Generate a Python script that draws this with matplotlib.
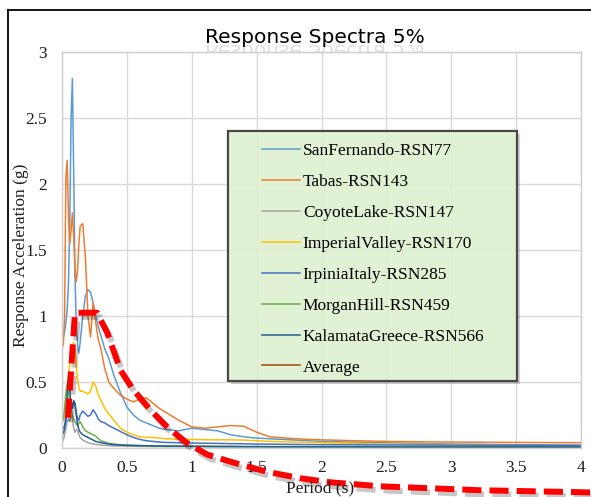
import matplotlib
matplotlib.use("Agg")
import matplotlib.pyplot as plt
import matplotlib.patheffects as pe
from matplotlib.textpath import TextPath
from matplotlib.patches import PathPatch, Rectangle
from matplotlib.font_manager import FontProperties
from matplotlib.transforms import Affine2D, IdentityTransform
from matplotlib.lines import Line2D

# periods (s)
T = [0.0, 0.01, 0.02, 0.03, 0.04, 0.05, 0.06, 0.07, 0.08, 0.09, 0.10, 0.11, 0.12, 0.13, 0.14,
     0.16, 0.18, 0.20, 0.22, 0.24, 0.26, 0.28, 0.30, 0.33, 0.36, 0.40, 0.45, 0.50, 0.55, 0.60,
     0.65, 0.70, 0.75, 0.80, 0.90, 1.00, 1.10, 1.20, 1.30, 1.40, 1.50, 1.60, 1.80, 2.00, 2.25,
     2.50, 3.00, 3.50, 4.00]

# spectral acceleration (g) per record
san_fernando = [0.83, 0.84, 0.88, 0.95, 1.05, 1.25, 1.70, 2.50, 2.80, 2.10, 1.30, 0.95, 0.78, 0.72, 0.80,
                1.00, 1.15, 1.20, 1.18, 1.10, 1.00, 0.92, 0.85, 0.75, 0.68, 0.55, 0.42, 0.31, 0.25, 0.21,
                0.19, 0.17, 0.15, 0.14, 0.13, 0.15, 0.14, 0.13, 0.10, 0.085, 0.075, 0.07, 0.06, 0.05, 0.045,
                0.04, 0.03, 0.025, 0.02]
tabas = [0.76, 0.78, 1.00, 2.05, 2.18, 1.75, 1.55, 1.65, 1.78, 1.60, 1.35, 1.26, 1.35, 1.55, 1.68,
         1.70, 1.45, 1.00, 0.84, 1.10, 0.95, 0.82, 0.75, 0.60, 0.50, 0.45, 0.40, 0.37, 0.35, 0.37,
         0.38, 0.34, 0.30, 0.27, 0.21, 0.16, 0.15, 0.16, 0.17, 0.165, 0.12, 0.085, 0.07, 0.062, 0.055,
         0.05, 0.045, 0.042, 0.04]
coyote_lake = [0.05, 0.06, 0.10, 0.15, 0.20, 0.22, 0.20, 0.25, 0.22, 0.15, 0.12, 0.14, 0.13, 0.10, 0.08,
               0.06, 0.05, 0.04, 0.035, 0.03, 0.027, 0.025, 0.022, 0.02, 0.018, 0.016, 0.015, 0.014, 0.013, 0.012,
               0.012, 0.011, 0.011, 0.01, 0.01, 0.01, 0.009, 0.009, 0.008, 0.008, 0.008, 0.007, 0.007, 0.006, 0.006,
               0.005, 0.005, 0.004, 0.004]
imperial_valley = [0.20, 0.21, 0.25, 0.32, 0.44, 0.55, 0.65, 0.72, 0.78, 0.80, 0.74, 0.62, 0.52, 0.46, 0.43,
                   0.43, 0.42, 0.41, 0.43, 0.50, 0.47, 0.40, 0.36, 0.30, 0.26, 0.21, 0.15, 0.12, 0.10, 0.085,
                   0.08, 0.08, 0.075, 0.07, 0.068, 0.065, 0.063, 0.062, 0.062, 0.06, 0.055, 0.05, 0.045, 0.04, 0.035,
                   0.03, 0.025, 0.02, 0.018]
irpinia_italy = [0.15, 0.15, 0.17, 0.20, 0.26, 0.31, 0.28, 0.30, 0.33, 0.35, 0.33, 0.27, 0.22, 0.21, 0.25,
                 0.28, 0.26, 0.24, 0.25, 0.29, 0.26, 0.22, 0.20, 0.19, 0.17, 0.15, 0.125, 0.10, 0.08, 0.065,
                 0.055, 0.05, 0.045, 0.042, 0.04, 0.038, 0.036, 0.035, 0.033, 0.032, 0.03, 0.029, 0.027, 0.025, 0.024,
                 0.023, 0.022, 0.021, 0.02]
morgan_hill = [0.20, 0.22, 0.30, 0.42, 0.49, 0.42, 0.34, 0.30, 0.25, 0.22, 0.20, 0.18, 0.17, 0.19, 0.20,
               0.16, 0.13, 0.12, 0.11, 0.10, 0.09, 0.07, 0.055, 0.045, 0.035, 0.03, 0.025, 0.022, 0.02, 0.018,
               0.017, 0.016, 0.015, 0.014, 0.013, 0.012, 0.012, 0.011, 0.011, 0.01, 0.01, 0.01, 0.009, 0.009, 0.008,
               0.008, 0.007, 0.007, 0.006]
kalamata_greece = [0.10, 0.11, 0.15, 0.25, 0.40, 0.54, 0.45, 0.30, 0.30, 0.36, 0.34, 0.25, 0.18, 0.14, 0.12,
                   0.10, 0.09, 0.08, 0.07, 0.06, 0.05, 0.045, 0.04, 0.035, 0.03, 0.025, 0.022, 0.02, 0.019, 0.018,
                   0.017, 0.016, 0.015, 0.015, 0.014, 0.013, 0.013, 0.012, 0.012, 0.011, 0.011, 0.01, 0.01, 0.009, 0.009,
                   0.008, 0.008, 0.008, 0.008]

names = ['SanFernando-RSN77', 'Tabas-RSN143', 'CoyoteLake-RSN147', 'ImperialValley-RSN170',
         'IrpiniaItaly-RSN285', 'MorganHill-RSN459', 'KalamataGreece-RSN566']
records = [san_fernando, tabas, coyote_lake, imperial_valley, irpinia_italy, morgan_hill, kalamata_greece]
colors = ['#5b9bd5', '#ed7d31', '#a5a5a5', '#ffc000', '#4472c4', '#70ad47', '#255e91']

# hand-drawn design spectrum overlay (red dashes)
design_T = [0.046, 0.10, 0.27, 0.35, 0.45, 0.55, 0.68, 0.81, 0.96, 1.12, 1.32, 1.58, 1.84,
            2.07, 2.45, 2.84, 3.22, 4.0, 4.08]
design_Sa = [0.23, 1.025, 1.025, 0.87, 0.59, 0.44, 0.29, 0.16, 0.04, -0.05, -0.11, -0.18, -0.23,
             -0.26, -0.29, -0.305, -0.32, -0.335, -0.337]

xticks = [0, 0.5, 1, 1.5, 2, 2.5, 3, 3.5, 4]
xlabels = ['0', '0.5', '1', '1.5', '2', '2.5', '3', '3.5', '4']
yticks = [0, 0.5, 1, 1.5, 2, 2.5, 3]
ylabels = ['0', '0.5', '1', '1.5', '2', '2.5', '3']

W, H = 591, 497
serif = 'Liberation Serif'

fig = plt.figure(figsize=(W / 100, H / 100), dpi=100)
ax = fig.add_axes([62 / W, 1 - 448 / H, (581 - 62) / W, (448 - 52) / H])

for name, vals, c in zip(names, records, colors):
    ax.plot(T, vals, color=c, lw=1.1, label=name)
ax.plot([], [], color='#9e480e', lw=1.1, label='Average')

red, = ax.plot(design_T, design_Sa, color='#ff0000', lw=4.3, clip_on=False, zorder=10,
               dash_capstyle='butt', solid_capstyle='butt')
red.set_dashes([3.2, 1.35])
red.set_path_effects([pe.SimpleLineShadow(offset=(2, -3), shadow_color='k', alpha=0.22),
                      pe.Normal()])

ax.set_xlim(0, 4)
ax.set_ylim(0, 3)
ax.set_xticks(xticks)
ax.set_xticklabels(xlabels)
ax.set_yticks(yticks)
ax.set_yticklabels(ylabels)
ax.tick_params(length=0, labelsize=12.5, labelcolor='#1f1f1f')
ax.tick_params(axis='y', pad=11)
ax.tick_params(axis='x', pad=9)
for lab in ax.get_xticklabels() + ax.get_yticklabels():
    lab.set_family(serif)
ax.grid(True, color='#d9d9d9', lw=1.0)
ax.set_axisbelow(True)
for s in ax.spines.values():
    s.set_color('#d0d0d0')
    s.set_linewidth(1.0)

fig.text(21 / W, 1 - 255 / H, 'Response Acceleration (g)', rotation=90, ha='center', va='center',
         family=serif, fontsize=12.5, color='#1f1f1f')
fig.text(320 / W, 1 - 488 / H, 'Period (s)', ha='center', va='center',
         family=serif, fontsize=12.5, color='#1f1f1f')

# title with faint mirrored reflection
title = 'Response Spectra 5%'
fig.text(315 / W, 1 - 43 / H, title, ha='center', va='baseline', family='DejaVu Sans',
         fontsize=14.5, color='black')
fp = FontProperties(family='DejaVu Sans', size=14.5)
tp = TextPath((0, 0), title, prop=fp)
ext = tp.get_extents()
sc = 100 / 72
x0 = 315 - (ext.x0 + ext.width / 2) * sc
refl = PathPatch(tp, transform=Affine2D().scale(sc, -sc).translate(x0, H - 45), fc='#b0b0b0',
                 ec='none', alpha=0.4)
fig.add_artist(refl)
clip = Rectangle((0, H - 52), W, 7, transform=IdentityTransform())
refl.set_clip_path(clip)

# outer frame
fig.add_artist(Line2D([8 / W, 8 / W], [0, 1 - 10 / H], transform=fig.transFigure, color='k', lw=1.3))
fig.add_artist(Line2D([8 / W, 1], [1 - 10 / H, 1 - 10 / H], transform=fig.transFigure, color='k', lw=1.3))

# legend box
fig.add_artist(Rectangle((231 / W, 1 - 384 / H), (517 - 228) / W, (381 - 131) / H,
                         transform=fig.transFigure, fc=(0, 0, 0, 0.18), ec='none', zorder=1))
fig.add_artist(Rectangle((228 / W, 1 - 381 / H), (517 - 228) / W, (381 - 131) / H,
                         transform=fig.transFigure, fc=(0.89, 0.96, 0.83, 0.9),
                         ec='#484848', lw=1.6, zorder=1.5))
handles, labels = ax.get_legend_handles_labels()
handles = [h for h, l in zip(handles, labels) if not l.startswith('_')]
labels = [l for l in labels if not l.startswith('_')]
fig.legend(handles, labels, loc='upper left', bbox_to_anchor=(262 / W, 1 - 143 / H),
           frameon=False, borderpad=0, borderaxespad=0, handlelength=2.18, handletextpad=0.17,
           labelspacing=0.85, prop={'family': serif, 'size': 12.5})

fig.savefig('out.png', dpi=100)
